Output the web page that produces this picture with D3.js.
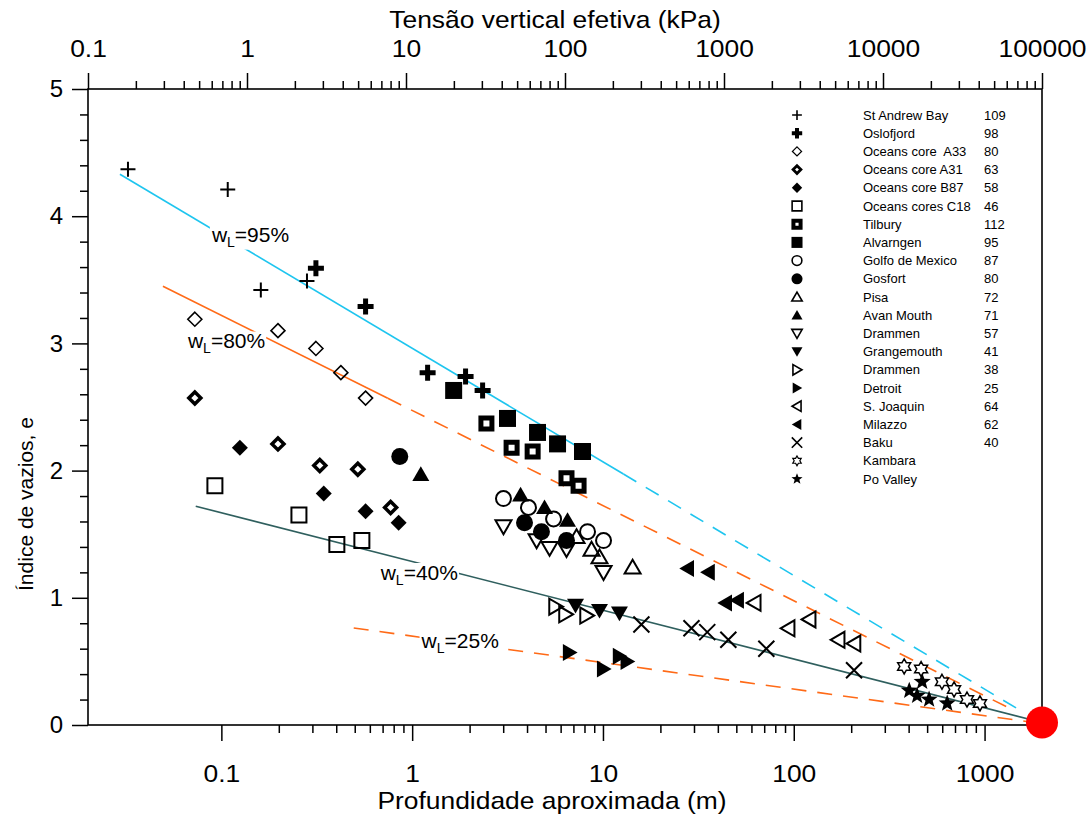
<!DOCTYPE html>
<html>
<head>
<meta charset="utf-8">
<script src="https://cdn.jsdelivr.net/npm/d3@7"></script>
<style>
  body { margin: 0; background: #fff; }
  text { font-family: Helvetica, Arial, "Liberation Sans", sans-serif; fill: #000; }
</style>
</head>
<body>
<div id="chart"></div>
<script>
// depth (m), void ratio e
var stAndrewBay = [[0.0324, 4.37], [0.108, 4.21], [0.161, 3.42], [0.281, 3.49]];
var oslofjord = [[0.313, 3.59], [0.570, 3.29], [1.205, 2.77], [1.905, 2.74], [2.34, 2.63]];
var oceansA33 = [[0.0726, 3.19], [0.198, 3.10], [0.313, 2.96], [0.423, 2.77], [0.570, 2.57]];
var oceansA31 = [[0.0726, 2.57], [0.198, 2.21], [0.328, 2.04], [0.519, 2.01], [0.771, 1.71]];
var oceansB87 = [[0.125, 2.18], [0.344, 1.82], [0.570, 1.68], [0.849, 1.59]];
var oceansC18 = [[0.0925, 1.88], [0.255, 1.65], [0.403, 1.42], [0.545, 1.45]];
var tilbury = [[2.45, 2.37], [3.32, 2.18], [4.28, 2.15], [6.44, 1.94], [7.45, 1.88]];
var alvarngen = [[1.65, 2.63], [3.16, 2.41], [4.54, 2.30], [5.78, 2.21], [7.81, 2.15]];
var golfoMexico = [[3.01, 1.78], [4.07, 1.71], [5.51, 1.62], [8.30, 1.52], [10.07, 1.45]];
var gosfort = [[0.861, 2.11], [3.88, 1.59], [4.76, 1.52], [6.44, 1.45]];
var pisa = [[7.27, 1.48], [8.71, 1.38], [9.59, 1.32], [14.3, 1.24]];
var avanMouth = [[1.11, 1.97], [3.70, 1.81], [4.94, 1.71], [6.52, 1.61]];
var drammen57 = [[3.01, 1.56], [4.49, 1.45], [5.25, 1.39], [6.44, 1.38], [10.07, 1.20]];
var grangemouth = [[7.18, 0.94], [9.59, 0.90], [12.2, 0.88]];
var drammen38 = [[5.64, 0.93], [6.36, 0.87], [8.20, 0.86]];
var detroit = [[6.68, 0.57], [10.07, 0.44], [12.2, 0.54], [13.4, 0.50]];
var sJoaquin = [[62.1, 0.96], [93.5, 0.76], [120.5, 0.83], [171, 0.67], [207, 0.64]];
var milazzo = [[27.7, 1.23], [35.6, 1.20], [43.8, 0.96], [50.6, 0.98]];
var baku = [[15.9, 0.79], [29.1, 0.76], [35.2, 0.73], [45.4, 0.67], [71.8, 0.60], [207, 0.43]];
var kambara = [[379, 0.46], [465, 0.44], [598, 0.34], [692, 0.28], [809, 0.20], [946, 0.17]];
var poValley = [[403, 0.27], [443, 0.23], [471, 0.34], [512, 0.20], [637, 0.17]];

var legendNames = ["St Andrew Bay", "Oslofjord", "Oceans core  A33", "Oceans core A31", "Oceans core B87",
  "Oceans cores C18", "Tilbury", "Alvarngen", "Golfo de Mexico", "Gosfort", "Pisa", "Avan Mouth",
  "Drammen", "Grangemouth", "Drammen", "Detroit", "S. Joaquin", "Milazzo", "Baku", "Kambara", "Po Valley"];
var legendCounts = ["109", "98", "80", "63", "58", "46", "112", "95", "87", "80", "72", "71",
  "57", "41", "38", "25", "64", "62", "40", "", ""];

// liquid limit lines: start, end of solid part, end
var lineLabels = ["95%", "80%", "40%", "25%"];
var lineStart = [[0.0294, 4.33], [0.0494, 3.45], [0.0734, 1.72], [0.494, 0.763]];
var lineSolidTo = [12.8, 0.745, 2000, 0.494];
var lineEnd = [[1480, 0.13], [1410, 0.118], [2000, 0.02], [1730, 0.024]];
var labelAt = [[0.0892, 3.80], [0.0668, 2.96], [0.684, 1.14], [1.12, 0.605]];
var endPoint = [2000, 0.02];

var bottomMajor = [0.1, 1, 10, 100, 1000];
var topMajor = [0.1, 1, 10, 100, 1000, 10000, 100000];
var yMajor = [0, 1, 2, 3, 4, 5];

var width = 1090, height = 816;
var pL = 88, pR = 1042, pT = 89, pB = 725;

var svg = d3.select("#chart").append("svg")
  .attr("width", width)
  .attr("height", height);

var x = d3.scaleLog().domain([0.02, 2000]).range([pL, pR]);
var xTop = d3.scaleLog().domain([0.1, 100000]).range([pL, pR]);
var y = d3.scaleLinear().domain([0, 5]).range([pB, pT]);

function minors(from, to) {
  var out = [];
  for (var n = from; n <= to; n++)
    for (var k = 2; k <= 9; k++) out.push(k * Math.pow(10, n));
  return out;
}
var yMinor = d3.range(0, 5.01, 0.2).filter(function(v) { return Math.abs(v - Math.round(v)) > 0.01; });

// axes
function styleAxis(g) {
  g.select(".domain").remove();
  g.selectAll("line").attr("stroke", "#000").attr("stroke-width", 1.5);
  g.selectAll("text").style("font-size", "24px");
}

svg.append("g").attr("transform", "translate(0," + pB + ")")
  .call(d3.axisBottom(x).tickValues(bottomMajor).tickSize(16).tickPadding(24).tickFormat(d3.format("~g")))
  .call(styleAxis)
  .selectAll("text").attr("transform", "scale(1.1,1)");
svg.append("g").attr("transform", "translate(0," + pB + ")")
  .call(d3.axisBottom(x).tickValues(minors(-1, 2)).tickSize(8).tickFormat(""))
  .call(styleAxis);

svg.append("g").attr("transform", "translate(0," + pT + ")")
  .call(d3.axisTop(xTop).tickValues(topMajor).tickSize(16).tickPadding(16).tickFormat(d3.format("~g")))
  .call(styleAxis)
  .selectAll("text").attr("transform", "scale(1.1,1)");
svg.append("g").attr("transform", "translate(0," + pT + ")")
  .call(d3.axisTop(xTop).tickValues(minors(-1, 4)).tickSize(8).tickFormat(""))
  .call(styleAxis);

svg.append("g").attr("transform", "translate(" + pL + ",0)")
  .call(d3.axisLeft(y).tickValues(yMajor).tickSize(16).tickPadding(9).tickFormat(d3.format("d")))
  .call(styleAxis);
svg.append("g").attr("transform", "translate(" + pL + ",0)")
  .call(d3.axisLeft(y).tickValues(yMinor).tickSize(8).tickFormat(""))
  .call(styleAxis);

svg.append("rect")
  .attr("x", pL).attr("y", pT)
  .attr("width", pR - pL).attr("height", pB - pT)
  .attr("fill", "none").attr("stroke", "#000").attr("stroke-width", 1.6);

// titles
svg.append("text")
  .attr("transform", "translate(555,28) scale(1.1,1)")
  .attr("text-anchor", "middle").style("font-size", "24px")
  .text("Tensão vertical efetiva (kPa)");
svg.append("text")
  .attr("transform", "translate(552,809) scale(1.1,1)")
  .attr("text-anchor", "middle").style("font-size", "24px")
  .text("Profundidade aproximada (m)");
svg.append("text")
  .attr("transform", "translate(33,504) rotate(-90)")
  .attr("text-anchor", "middle").style("font-size", "21px")
  .text("Índice de vazios, e");

// reference lines
var lineColors = ["#1ec5ef", "#ff6a17", "#2f5f5e", "#ff6a17"];
var eOf = lineStart.map(function(s, i) {
  return d3.scaleLinear().domain([Math.log10(s[0]), Math.log10(lineEnd[i][0])]).range([s[1], lineEnd[i][1]]);
});
var line = d3.line().x(function(d) { return x(d[0]); }).y(function(d) { return y(d[1]); });

var lines = svg.append("g");
lineLabels.forEach(function(lab, i) {
  var brk = [lineSolidTo[i], eOf[i](Math.log10(lineSolidTo[i]))];
  if (lineSolidTo[i] > lineStart[i][0])
    lines.append("path").attr("d", line([lineStart[i], brk]))
      .attr("fill", "none").attr("stroke", lineColors[i]).attr("stroke-width", 1.6);
  if (lineSolidTo[i] < lineEnd[i][0])
    lines.append("path").attr("d", line([brk, lineEnd[i]]))
      .attr("fill", "none").attr("stroke", lineColors[i]).attr("stroke-width", 1.6)
      .attr("stroke-dasharray", "15,11");
});

// marker shapes
function tri(r, angle) {
  var pts = [[0, -0.95 * r], [r, 0.78 * r], [-r, 0.78 * r]];
  var a = angle * Math.PI / 180;
  return "M" + pts.map(function(p) {
    return [p[0] * Math.cos(a) - p[1] * Math.sin(a), p[0] * Math.sin(a) + p[1] * Math.cos(a)].join(",");
  }).join("L") + "Z";
}
function starPath(n, R, ri, start) {
  var p = [];
  for (var k = 0; k < 2 * n; k++) {
    var rr = k % 2 ? ri : R, a = (start + k * 180 / n) * Math.PI / 180;
    p.push([rr * Math.cos(a), rr * Math.sin(a)].join(","));
  }
  return "M" + p.join("L") + "Z";
}
function shape(type, r) {
  switch (type) {
    case "plus": return "M" + (-r) + ",0H" + r + "M0," + (-r) + "V" + r;
    case "diamond": return "M0," + (-r) + "L" + r + ",0L0," + r + "L" + (-r) + ",0Z";
    case "square": return "M" + (-r) + "," + (-r) + "H" + r + "V" + r + "H" + (-r) + "Z";
    case "circle": return "M" + r + ",0A" + r + "," + r + " 0 1,1 " + (-r) + ",0A" + r + "," + r + " 0 1,1 " + r + ",0Z";
    case "up": return tri(r, 0);
    case "down": return tri(r, 180);
    case "right": return tri(r, 90);
    case "left": return tri(r, -90);
    case "cross": return "M" + (-r) + "," + (-r) + "L" + r + "," + r + "M" + (-r) + "," + r + "L" + r + "," + (-r);
    case "hexagram": return starPath(6, r, r * 0.577, -90);
    case "star": return starPath(5, r, r * 0.42, -90);
  }
}

var seriesData = [stAndrewBay, oslofjord, oceansA33, oceansA31, oceansB87, oceansC18, tilbury, alvarngen,
  golfoMexico, gosfort, pisa, avanMouth, drammen57, grangemouth, drammen38, detroit, sJoaquin, milazzo,
  baku, kambara, poValley];
// shape, size, fill, stroke width
var marks = [
  ["plus", 7.5, "none", 2], ["plus", 8, "none", 5], ["diamond", 7, "none", 1.6], ["diamond", 6, "#fff", 3.5],
  ["diamond", 8, "#000", 0], ["square", 7.5, "none", 2], ["square", 5.5, "#fff", 5], ["square", 8.5, "#000", 0],
  ["circle", 7.5, "none", 2], ["circle", 8.5, "#000", 0], ["up", 8, "none", 2], ["up", 8.5, "#000", 0],
  ["down", 8, "none", 2], ["down", 8.5, "#000", 0], ["right", 8, "none", 2], ["right", 8.5, "#000", 0],
  ["left", 8, "none", 2], ["left", 8.5, "#000", 0], ["cross", 8, "none", 2], ["hexagram", 7.5, "#fff", 1.5],
  ["star", 9, "#000", 0]
];

var pts = svg.append("g");
seriesData.forEach(function(data, i) {
  var m = marks[i];
  pts.append("g").selectAll("path")
    .data(data)
    .enter().append("path")
    .attr("transform", function(d) { return "translate(" + x(d[0]) + "," + y(d[1]) + ")"; })
    .attr("d", shape(m[0], m[1]))
    .attr("fill", m[2])
    .attr("stroke", m[3] ? "#000" : "none")
    .attr("stroke-width", m[3])
    .attr("stroke-linejoin", "miter");
});

// labels wL=..
var labs = svg.append("g");
lineLabels.forEach(function(lab, i) {
  var g = labs.append("g");
  var t = g.append("text")
    .attr("x", x(labelAt[i][0])).attr("y", y(labelAt[i][1]))
    .style("font-size", "21px");
  t.append("tspan").text("w");
  t.append("tspan").attr("dy", 5).style("font-size", "14px").text("L");
  t.append("tspan").attr("dy", -5).text("=" + lab);
  var b = t.node().getBBox();
  g.insert("rect", "text")
    .attr("x", b.x - 1).attr("y", b.y + 2)
    .attr("width", b.width + 2).attr("height", b.height - 2)
    .attr("fill", "#fff");
});

// red end point
svg.append("circle")
  .attr("cx", x(endPoint[0])).attr("cy", y(endPoint[1]))
  .attr("r", 16).attr("fill", "#ff0000");

// legend
var legend = svg.append("g");
legendNames.forEach(function(name, i) {
  var yy = 115 + i * 18.2, m = marks[i];
  legend.append("path")
    .attr("transform", "translate(797," + yy + ")")
    .attr("d", shape(m[0], m[1] * 0.65))
    .attr("fill", m[2])
    .attr("stroke", m[3] ? "#000" : "none")
    .attr("stroke-width", m[3] * 0.8);
  legend.append("text").attr("x", 863).attr("y", yy + 4.5)
    .style("font-size", "13px").style("white-space", "pre").text(name);
  legend.append("text").attr("x", 984).attr("y", yy + 4.5)
    .style("font-size", "13px").text(legendCounts[i]);
});
</script>
</body>
</html>
